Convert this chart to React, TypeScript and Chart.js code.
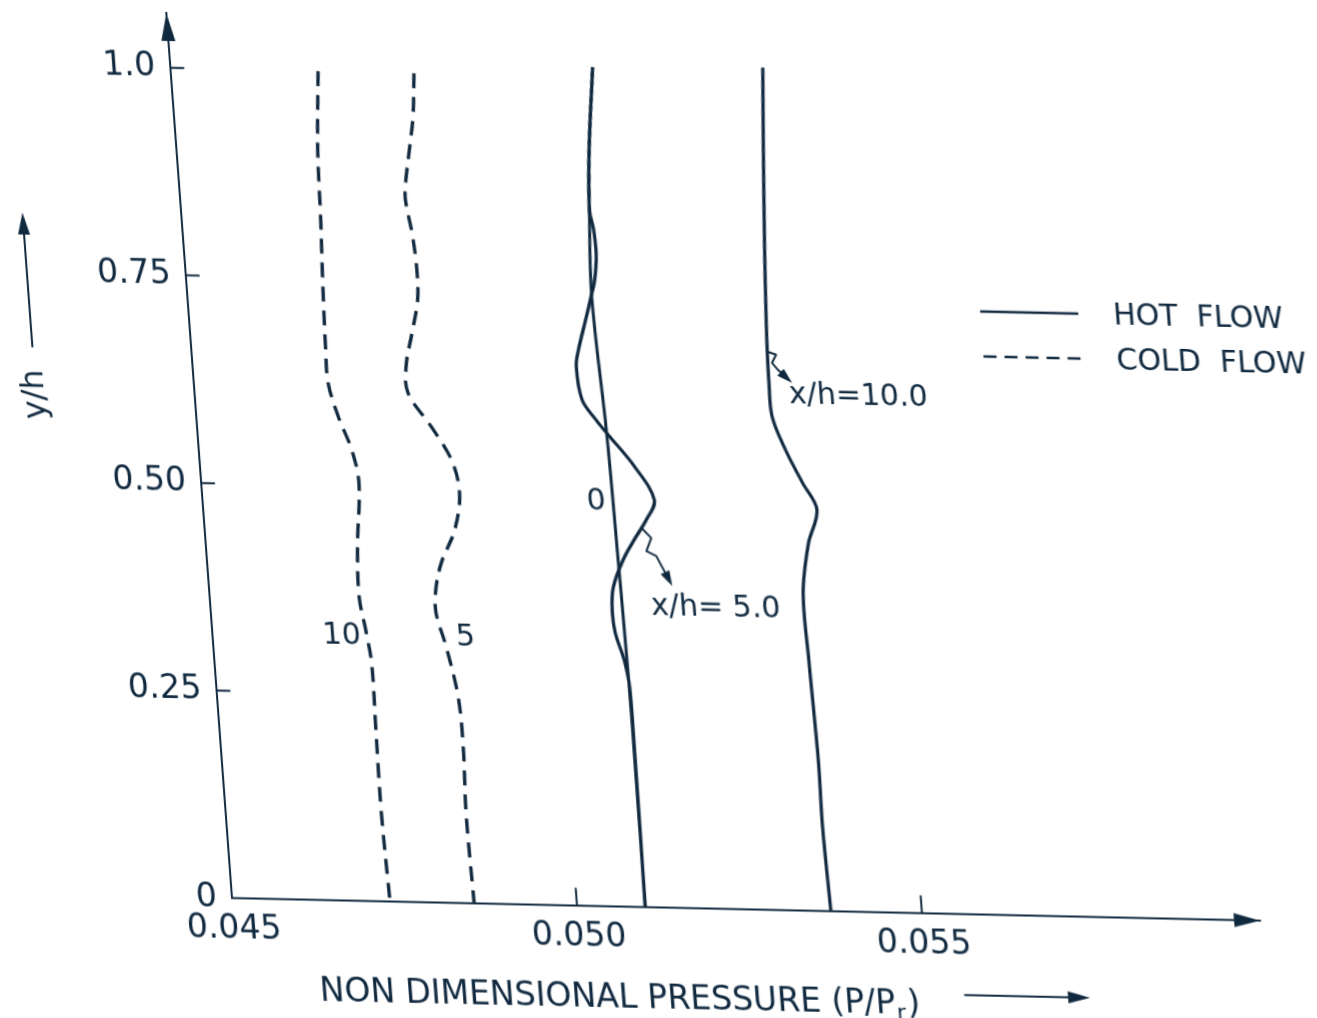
import React, { useEffect, useRef } from "react";
import { Chart, registerables } from "chart.js";

Chart.register(...registerables);

const INK = "#10293f";
const FONT = "'DejaVu Sans', 'Liberation Sans', sans-serif";
const CANVAS_W = 1420;
const CANVAS_H = 1018;

// axes
const xMin = 0.045;
const xMax = 0.0599;
const yMin = 0;
const yMax = 1.066;
const xTickValues = [0.045, 0.05, 0.055];
const xTickLabels = ["0.045", "0.050", "0.055"];
const yTickValues = [0, 0.25, 0.5, 0.75, 1.0];
const yTickLabels = ["0", "0.25", "0.50", "0.75", "1.0"];

// HOT FLOW, x/h = 0
const hot0YH = [1.012, 0.912, 0.84, 0.735, 0.571, 0.418, 0.298, 0.177, 0];
const hot0P = [0.05113, 0.05099, 0.05093, 0.05087, 0.05094, 0.05097, 0.05099, 0.051, 0.05099];

// HOT FLOW, x/h = 5.0
const hot5YH = [1.012, 0.912, 0.84, 0.816, 0.7855, 0.755, 0.735, 0.7105, 0.6705, 0.65, 0.61, 0.5865, 0.571, 0.531, 0.4915, 0.467, 0.446, 0.418, 0.385, 0.3576, 0.33, 0.2976, 0.265, 0.177, 0];
const hot5P = [0.05113, 0.05099, 0.05093, 0.05097, 0.05098, 0.05093, 0.05086, 0.05077, 0.05062, 0.05057, 0.05062, 0.0508, 0.05094, 0.05131, 0.05156, 0.05142, 0.05125, 0.05104, 0.05087, 0.05083, 0.05085, 0.05095, 0.051, 0.051, 0.05099];

// HOT FLOW, x/h = 10.0
const hot10YH = [1.016, 0.917, 0.796, 0.716, 0.676, 0.636, 0.595, 0.555, 0.516, 0.484, 0.443, 0.383, 0.303, 0.182, 0.102, 0];
const hot10P = [0.0536, 0.05352, 0.05343, 0.05338, 0.05336, 0.05335, 0.05336, 0.05352, 0.05373, 0.05391, 0.05375, 0.05362, 0.05363, 0.05366, 0.05365, 0.05368];

// COLD FLOW, x/h = 5
const cold5YH = [1.0, 0.948, 0.907, 0.867, 0.847, 0.807, 0.767, 0.727, 0.686, 0.646, 0.614, 0.574, 0.534, 0.494, 0.45, 0.41, 0.377, 0.349, 0.309, 0.249, 0.189, 0.108, 0];
const cold5P = [0.04853, 0.04847, 0.04838, 0.04829, 0.04827, 0.04833, 0.04836, 0.04834, 0.04822, 0.0481, 0.0481, 0.0484, 0.04866, 0.04874, 0.04863, 0.0484, 0.04829, 0.04827, 0.04838, 0.0485, 0.04852, 0.04849, 0.04851];

// COLD FLOW, x/h = 10
const cold10YH = [1.0, 0.905, 0.825, 0.745, 0.664, 0.624, 0.584, 0.544, 0.504, 0.427, 0.367, 0.327, 0.287, 0.207, 0.107, 0];
const cold10P = [0.04714, 0.04705, 0.04702, 0.04698, 0.04695, 0.04695, 0.04706, 0.04722, 0.04729, 0.0472, 0.04717, 0.04723, 0.04728, 0.04727, 0.04726, 0.04729];

// annotation labels (data coordinates)
const labelTexts = ["x/h=10.0", "x/h= 5.0", "0", "10", "5"];
const labelP = [0.053628, 0.0514, 0.050716, 0.046876, 0.048671];
const labelYH = [0.6207, 0.3623, 0.4876, 0.319, 0.32];

// squiggly pointer arrows (data coordinates)
const arrow10P = [0.053372, 0.053483, 0.053417, 0.053496, 0.053686];
const arrow10YH = [0.673, 0.67, 0.66, 0.6516, 0.6364];
const arrow5P = [0.051342, 0.051475, 0.05139, 0.051528, 0.051728];
const arrow5YH = [0.4574, 0.4455, 0.4296, 0.4239, 0.3882];

// legend
const legendLabels = ["HOT  FLOW", "COLD  FLOW"];

function head(ctx: CanvasRenderingContext2D, fx: number, fy: number, tx: number, ty: number, len: number, half: number) {
  const a = Math.atan2(ty - fy, tx - fx);
  const bx = tx - len * Math.cos(a);
  const by = ty - len * Math.sin(a);
  ctx.beginPath();
  ctx.moveTo(tx, ty);
  ctx.lineTo(bx + half * Math.sin(a), by - half * Math.cos(a));
  ctx.lineTo(bx - half * Math.sin(a), by + half * Math.cos(a));
  ctx.closePath();
  ctx.fill();
}

const decor = {
  id: "decor",
  afterDraw(chart: any) {
    const { ctx, chartArea: ca, scales } = chart;
    const x = scales.x;
    const y = scales.y;
    ctx.save();
    ctx.strokeStyle = INK;
    ctx.fillStyle = INK;
    ctx.lineCap = "round";
    ctx.lineJoin = "round";

    // inner tick marks
    ctx.lineWidth = 2;
    xTickValues.forEach((v) => {
      if (v === xMin) return;
      const px = x.getPixelForValue(v);
      ctx.beginPath();
      ctx.moveTo(px, ca.bottom);
      ctx.lineTo(px, ca.bottom - 17);
      ctx.stroke();
    });
    yTickValues.forEach((v) => {
      if (v === yMin) return;
      const py = y.getPixelForValue(v);
      ctx.beginPath();
      ctx.moveTo(ca.left, py);
      ctx.lineTo(ca.left + 13, py);
      ctx.stroke();
    });

    // axis arrow heads
    head(ctx, ca.left, ca.top + 60, ca.left, ca.top, 28, 7);
    head(ctx, ca.right - 60, ca.bottom, ca.right, ca.bottom, 26, 7);

    // x axis title with subscript and arrow
    ctx.textBaseline = "middle";
    ctx.textAlign = "left";
    const tx = ca.left + 81;
    const ty = ca.bottom + 92;
    ctx.font = `33px ${FONT}`;
    const main = "NON DIMENSIONAL PRESSURE (P/P";
    ctx.fillText(main, tx, ty);
    const w1 = ctx.measureText(main).width;
    ctx.font = `22px ${FONT}`;
    ctx.fillText("r", tx + w1 + 1, ty + 9);
    const wr = ctx.measureText("r").width;
    ctx.font = `33px ${FONT}`;
    ctx.fillText(")", tx + w1 + wr + 3, ty);
    ctx.lineWidth = 2;
    ctx.beginPath();
    ctx.moveTo(ca.left + 727, ca.bottom + 81);
    ctx.lineTo(ca.left + 840, ca.bottom + 81);
    ctx.stroke();
    head(ctx, ca.left + 727, ca.bottom + 81, ca.left + 852, ca.bottom + 81, 22, 6);

    // y axis title (rotated) with arrow
    ctx.save();
    ctx.translate(ca.left - 159, 398);
    ctx.rotate(-Math.PI / 2);
    ctx.textAlign = "center";
    ctx.font = `32px ${FONT}`;
    ctx.fillText("y/h", 0, 0);
    ctx.restore();
    ctx.beginPath();
    ctx.moveTo(ca.left - 159, 350);
    ctx.lineTo(ca.left - 159, 232);
    ctx.stroke();
    head(ctx, ca.left - 159, 350, ca.left - 159, 216, 22, 6);

    // legend
    const lx = 1025;
    const rows = [294, 339];
    ctx.lineWidth = 2.5;
    ctx.lineCap = "butt";
    rows.forEach((ry, i) => {
      ctx.setLineDash(i === 0 ? [] : [13, 8]);
      ctx.beginPath();
      ctx.moveTo(lx, ry);
      ctx.lineTo(lx + 98, ry);
      ctx.stroke();
      ctx.setLineDash([]);
      ctx.font = `30px ${FONT}`;
      ctx.textAlign = "left";
      ctx.fillText(legendLabels[i], lx + 133, ry + 2);
    });
    ctx.lineCap = "round";

    // annotation labels
    labelTexts.forEach((t, i) => {
      const px = x.getPixelForValue(labelP[i]);
      const py = y.getPixelForValue(labelYH[i]);
      ctx.font = `30px ${FONT}`;
      ctx.textAlign = i < 2 ? "left" : "center";
      ctx.fillText(t, px, py);
    });

    // squiggly pointer arrows
    const pointer = (ps: number[], ys: number[]) => {
      const pts = ps.map((p, i) => [x.getPixelForValue(p), y.getPixelForValue(ys[i])]);
      const n = pts.length;
      const [fx, fy] = pts[n - 2];
      const [ex, ey] = pts[n - 1];
      const a = Math.atan2(ey - fy, ex - fx);
      ctx.lineWidth = 2;
      ctx.beginPath();
      ctx.moveTo(pts[0][0], pts[0][1]);
      for (let i = 1; i < n - 1; i++) ctx.lineTo(pts[i][0], pts[i][1]);
      ctx.lineTo(ex - 10 * Math.cos(a), ey - 10 * Math.sin(a));
      ctx.stroke();
      head(ctx, fx, fy, ex, ey, 15, 5);
    };
    pointer(arrow10P, arrow10YH);
    pointer(arrow5P, arrow5YH);

    ctx.restore();
  },
};

function series(label: string, ps: number[], ys: number[], dashed: boolean, width: number) {
  return {
    label,
    data: ps.map((p, i) => ({ x: p, y: ys[i] })),
    showLine: true,
    borderColor: INK,
    backgroundColor: INK,
    borderWidth: width,
    borderDash: dashed ? [15, 9] : [],
    pointRadius: 0,
    pointHoverRadius: 0,
    tension: 0.35,
    fill: false,
  };
}

function labelFor(values: number[], labels: string[], v: number) {
  const i = values.findIndex((t) => Math.abs(t - v) < 1e-9);
  return i >= 0 ? labels[i] : "";
}

export default function App() {
  const ref = useRef<HTMLCanvasElement>(null);

  useEffect(() => {
    if (!ref.current) return;
    const chart = new Chart(ref.current, {
      type: "scatter",
      data: {
        datasets: [
          series("HOT FLOW x/h=0", hot0P, hot0YH, false, 3),
          series("HOT FLOW x/h=5.0", hot5P, hot5YH, false, 3.3),
          series("HOT FLOW x/h=10.0", hot10P, hot10YH, false, 3.3),
          series("COLD FLOW x/h=5", cold5P, cold5YH, true, 3.4),
          series("COLD FLOW x/h=10", cold10P, cold10YH, true, 3.4),
        ] as any,
      },
      options: {
        responsive: false,
        animation: false,
        events: [],
        layout: { padding: { left: 0, right: CANVAS_W - 1260, top: 13, bottom: 0 } },
        plugins: { legend: { display: false }, tooltip: { enabled: false } },
        scales: {
          x: {
            type: "linear",
            min: xMin,
            max: xMax,
            afterFit: (s: any) => {
              s.height = 120;
              s.paddingLeft = 0;
              s.paddingRight = 0;
            },
            afterBuildTicks: (s: any) => {
              s.ticks = xTickValues.map((v) => ({ value: v }));
            },
            grid: { display: false, drawTicks: false },
            border: { display: true, color: INK, width: 2 },
            ticks: {
              color: INK,
              font: { family: FONT, size: 33 },
              padding: 12,
              maxRotation: 0,
              autoSkip: false,
              callback: (v: any) => labelFor(xTickValues, xTickLabels, Number(v)),
            },
          },
          y: {
            type: "linear",
            min: yMin,
            max: yMax,
            afterFit: (s: any) => {
              s.width = 232;
              s.paddingTop = 0;
              s.paddingBottom = 0;
            },
            afterBuildTicks: (s: any) => {
              s.ticks = yTickValues.map((v) => ({ value: v }));
            },
            grid: { display: false, drawTicks: false },
            border: { display: true, color: INK, width: 2 },
            ticks: {
              color: INK,
              font: { family: FONT, size: 33 },
              padding: 15,
              autoSkip: false,
              callback: (v: any) => labelFor(yTickValues, yTickLabels, Number(v)),
            },
          },
        },
      } as any,
      plugins: [decor],
    });
    return () => chart.destroy();
  }, []);

  return (
    <div
      style={{
        position: "fixed",
        left: 0,
        top: 0,
        width: 1317,
        height: 1018,
        overflow: "hidden",
        background: "#ffffff",
      }}
    >
      <div
        style={{
          position: "absolute",
          left: 0,
          top: 0,
          width: CANVAS_W,
          height: CANVAS_H,
          transformOrigin: "232px 898px",
          transform: "matrix(1, 0.022, 0.0742, 1, 0, 0)",
        }}
      >
        <canvas ref={ref} width={CANVAS_W} height={CANVAS_H} style={{ display: "block", width: CANVAS_W, height: CANVAS_H }} />
      </div>
    </div>
  );
}
